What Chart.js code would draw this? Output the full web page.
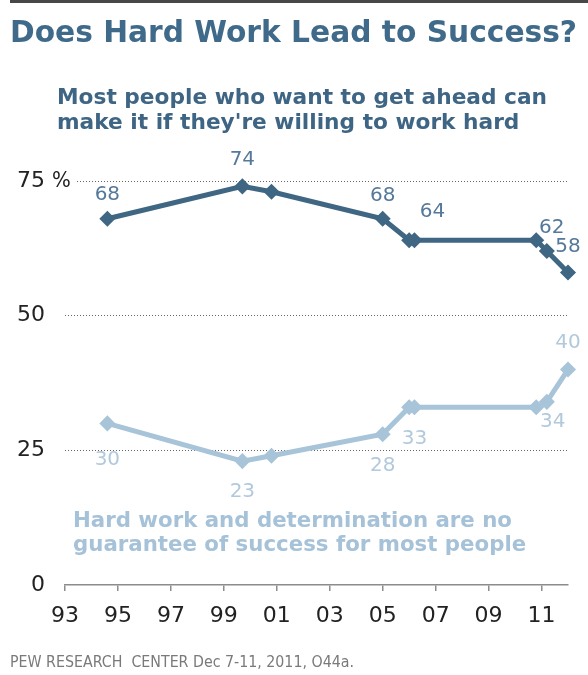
<!DOCTYPE html>
<html>
<head>
<meta charset="utf-8">
<script src="https://cdn.jsdelivr.net/npm/chart.js@4.4.1/dist/chart.umd.min.js"></script>
<style>
body { margin: 0; background: #fff; }
#wrap { position: relative; width: 588px; height: 675px; overflow: hidden; font-family: "DejaVu Sans", sans-serif; }
canvas { position: absolute; left: 0; top: 0; }
.t { position: absolute; white-space: pre; }
</style>
</head>
<body>
<div id="wrap">
    <canvas id="chartTrabajo" width="588" height="675"></canvas>
    <div class="t" style="left:10px;top:0;width:578px;height:3px;background:#474747"></div>
    <div class="t" style="left:10px;top:15px;font-size:29.7px;line-height:34px;font-weight:bold;color:#3f6a8a">Does Hard Work Lead to Success?</div>
    <div class="t" style="left:57px;top:84px;font-size:21.7px;line-height:25px;font-weight:bold;color:#3e6584">Most people who want to get ahead can
make it if they're willing to work hard</div>
    <div class="t" style="left:73px;top:508px;font-size:21.3px;line-height:24px;font-weight:bold;color:#a6c2d8">Hard work and determination are no
guarantee of success for most people</div>
    <div class="t" style="left:10px;top:652px;font-size:15.8px;line-height:20px;color:#7a7a7a;font-family:'DejaVu Sans Condensed','DejaVu Sans',sans-serif">PEW RESEARCH  CENTER Dec 7-11, 2011, O44a.</div>
</div>
<script>
// fechas de encuesta (años) y porcentajes
const years = [1994.6, 1999.7, 2000.8, 2005.0, 2006.0, 2006.2, 2010.8, 2011.2, 2012.0];
const canMakeIt = [68, 74, 73, 68, 64, 64, 64, 62, 58];
const noGuarantee = [30, 23, 24, 28, 33, 33, 33, 34, 40];
const yearTicks = [1993, 1995, 1997, 1999, 2001, 2003, 2005, 2007, 2009, 2011];
const pctTicks = [0, 25, 50, 75];

const darkColor = '#3f6682';
const lightColor = '#a8c4d8';

const toPoints = vals => vals.map((v, i) => ({ x: years[i], y: v }));

// offsets de las etiquetas, por indice del punto
const labelOffsets = [
    { 0: [0, -24], 1: [0, -27], 3: [0, -23], 5: [18, -28], 7: [5, -23], 8: [0, -26] },
    { 0: [0, 36], 1: [0, 31], 3: [0, 32], 5: [0, 32], 7: [6, 20], 8: [0, -27] }
];
const labelColors = ['#55799a', '#b2c9dc'];

const pointLabels = {
    id: 'pointLabels',
    afterDatasetsDraw(chart) {
        const ctx = chart.ctx;
        ctx.save();
        ctx.font = '20px "DejaVu Sans"';
        ctx.textAlign = 'center';
        ctx.textBaseline = 'middle';
        chart.data.datasets.forEach((ds, d) => {
            const meta = chart.getDatasetMeta(d);
            Object.keys(labelOffsets[d]).forEach(k => {
                const i = Number(k);
                const el = meta.data[i];
                const off = labelOffsets[d][k];
                ctx.fillStyle = labelColors[d];
                ctx.fillText(String(ds.data[i].y), el.x + off[0], el.y + off[1]);
            });
        });
        // signo de porcentaje junto al 75
        const y = chart.scales.y.getPixelForValue(75);
        ctx.fillStyle = '#fff';
        ctx.fillRect(50, y - 3, 25, 6);
        ctx.font = '22px "DejaVu Sans Condensed"';
        ctx.textAlign = 'left';
        ctx.fillStyle = '#222';
        ctx.fillText('%', 52, y);
        ctx.restore();
    }
};

const canvas = document.getElementById('chartTrabajo');
const ctx = canvas.getContext('2d');

const chartTrabajo = new Chart(ctx, {
    type: 'line',
    data: {
        datasets: [{
            label: 'Can make it if willing to work hard',
            data: toPoints(canMakeIt),
            borderColor: darkColor,
            backgroundColor: darkColor,
            borderWidth: 5,
            pointStyle: 'rectRot',
            pointRadius: 4.5,
            clip: false
        }, {
            label: 'Hard work no guarantee of success',
            data: toPoints(noGuarantee),
            borderColor: lightColor,
            backgroundColor: lightColor,
            borderWidth: 5,
            pointStyle: 'rectRot',
            pointRadius: 4.5,
            clip: false
        }]
    },
    options: {
        responsive: false,
        animation: false,
        devicePixelRatio: 1,
        layout: { padding: { left: 0, right: 20, top: 181, bottom: 0 } },
        plugins: { legend: { display: false }, tooltip: { enabled: false } },
        scales: {
            x: {
                type: 'linear',
                min: 1993,
                max: 2012,
                afterBuildTicks: s => { s.ticks = yearTicks.map(v => ({ value: v })); },
                afterFit: s => { s.height = 90; },
                border: { display: true, color: '#8c8c8c', width: 1.5 },
                grid: { drawOnChartArea: false, drawTicks: true, tickLength: 6, color: '#8c8c8c', lineWidth: 1.5 },
                ticks: {
                    padding: 12,
                    color: '#222',
                    autoSkip: false,
                    maxRotation: 0,
                    font: { family: '"DejaVu Sans"', size: 22 },
                    callback: v => String(v % 100).padStart(2, '0')
                }
            },
            y: {
                min: 0,
                max: 75,
                afterBuildTicks: s => { s.ticks = pctTicks.map(v => ({ value: v })); },
                afterFit: s => { s.width = 65; },
                border: { display: false, dash: [1, 2] },
                grid: {
                    drawTicks: false,
                    lineWidth: 1,
                    color: c => c.tick && c.tick.value === 0 ? 'rgba(0,0,0,0)' : '#666'
                },
                ticks: {
                    padding: 20,
                    color: '#222',
                    font: { family: '"DejaVu Sans"', size: 22 }
                }
            }
        }
    },
    plugins: [pointLabels]
});
</script>
</body>
</html>
